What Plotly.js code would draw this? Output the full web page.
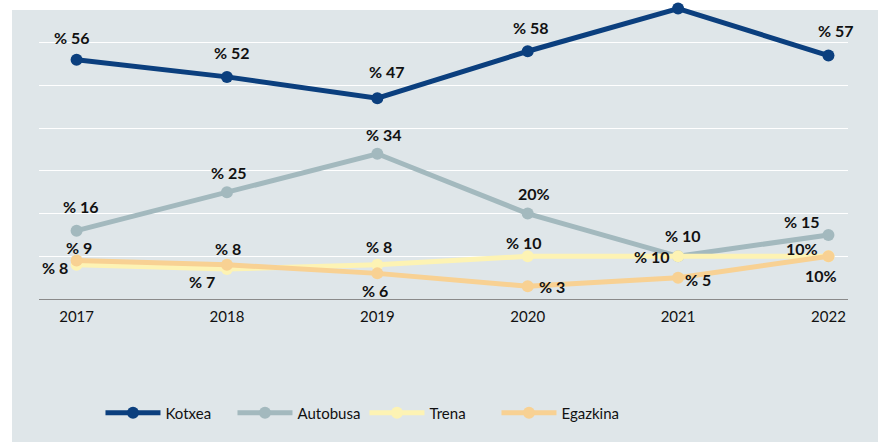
<!DOCTYPE html>
<html>
<head>
<meta charset="utf-8">
<script src="https://cdn.plot.ly/plotly-3.0.1.min.js"></script>
<style>
  html, body { margin: 0; padding: 0; background: #ffffff; }
  #chart { width: 884px; height: 442px; }
</style>
</head>
<body>
<div id="chart"></div>
<script>
// ---- data ----
const years = ['2017', '2018', '2019', '2020', '2021', '2022'];
const seriesNames = ['Kotxea', 'Autobusa', 'Trena', 'Egazkina'];
const kotxea   = [56, 52, 47, 58, 68, 57];
const autobusa = [16, 25, 34, 20, 10, 15];
const trena    = [8, 7, 8, 10, 10, 10];
const egazkina = [9, 8, 6, 3, 5, 10];
const kotxeaLabels   = ['% 56', '% 52', '% 47', '% 58', '', '% 57'];
const autobusaLabels = ['% 16', '% 25', '% 34', '20%', '% 10', '% 15'];
const trenaLabels    = ['% 8', '% 7', '% 8', '% 10', '% 10', '10%'];
const egazkinaLabels = ['% 9', '% 8', '% 6', '% 3', '% 5', '10%'];

// ---- styling ----
const colors = ['#0b3f7e', '#a3b9be', '#fdf3b4', '#f8d193'];
const values = [kotxea, autobusa, trena, egazkina];
const labels = [kotxeaLabels, autobusaLabels, trenaLabels, egazkinaLabels];
// label offsets in pixels [xshift, yshift] relative to each point
const shifts = [
  [[-5, 22], [5, 24], [10, 27], [3, 24], [0, 0], [8, 25]],
  [[4, 24], [2, 20], [7, 19], [6, 20], [5, 21], [-26, 13]],
  [[-22, -3], [-25, -12], [2, 18], [-4, 14], [-26, 0], [-26, 8]],
  [[2, 13], [1, 16], [-2, -17], [24, 0], [20, -2], [-7, -19]]
];

const traces = seriesNames.map((name, i) => ({
  type: 'scatter',
  mode: 'lines+markers',
  name: name,
  x: years,
  y: values[i],
  line: { color: colors[i], width: 5 },
  marker: { color: colors[i], size: 12 },
  cliponaxis: false,
  hoverinfo: 'skip'
}));

const annotations = [];
values.forEach((vals, i) => {
  vals.forEach((v, j) => {
    if (!labels[i][j]) return;
    annotations.push({
      x: years.indexOf(years[j]), y: v, xref: 'x', yref: 'y',
      text: '<b>' + labels[i][j] + '</b>',
      showarrow: false,
      xshift: shifts[i][j][0],
      yshift: shifts[i][j][1],
      font: { family: 'Lato, DejaVu Sans, sans-serif', size: 16, color: '#111111' }
    });
  });
});

const layout = {
  width: 884, height: 442,
  margin: { l: 39, r: 36, t: 0, b: 143 },
  paper_bgcolor: '#ffffff',
  plot_bgcolor: 'rgba(0,0,0,0)',
  showlegend: true,
  font: { family: 'Lato, DejaVu Sans, sans-serif', size: 15, color: '#111111' },
  xaxis: {
    type: 'category',
    range: [-0.25, 5.13],
    showgrid: false,
    showline: true, linecolor: '#8a8a8a', linewidth: 1,
    ticks: '',
    ticklabelstandoff: 4,
    tickfont: { size: 15, color: '#111111' },
    fixedrange: true
  },
  yaxis: {
    range: [0, 70],
    dtick: 10,
    showgrid: true, gridcolor: '#ffffff', gridwidth: 1,
    showticklabels: false,
    zeroline: false,
    showline: false,
    fixedrange: true
  },
  legend: {
    orientation: 'h',
    x: 0.076, xanchor: 'left',
    y: -0.381, yanchor: 'middle',
    font: { size: 15, color: '#111111' },
    itemwidth: 55,
    entrywidth: 62,
    bgcolor: 'rgba(0,0,0,0)'
  },
  shapes: [{
    type: 'rect', xref: 'paper', yref: 'paper', layer: 'below',
    x0: -0.0334, x1: 1.0371, y0: -0.5, y1: 0.9666,
    fillcolor: '#dfe6e9', line: { width: 0 }
  }],
  annotations: annotations
};

Plotly.newPlot('chart', traces, layout, { displayModeBar: false, staticPlot: true });
</script>
</body>
</html>
